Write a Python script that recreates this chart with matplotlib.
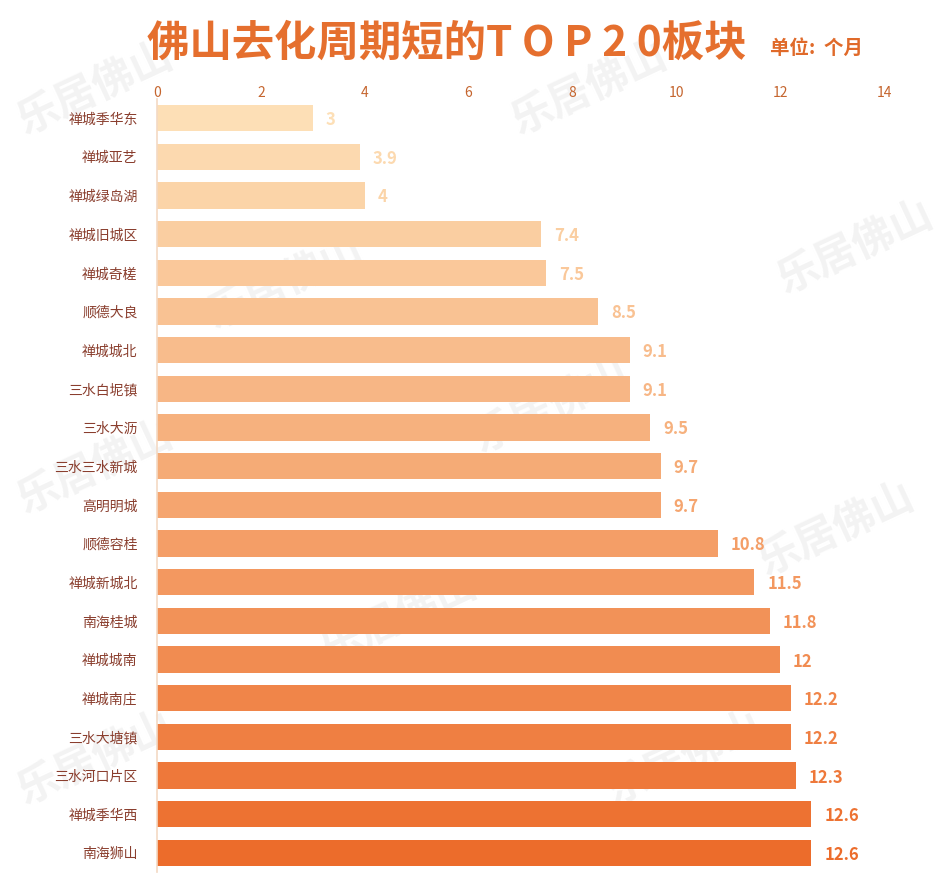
import numpy as np
import matplotlib.pyplot as plt
from matplotlib.colors import LinearSegmentedColormap

plt.rcParams['font.family'] = ['Noto Sans CJK SC', 'DejaVu Sans']

### data ###
areas = ['禅城季华东', '禅城亚艺', '禅城绿岛湖', '禅城旧城区', '禅城奇槎', '顺德大良',
         '禅城城北', '三水白坭镇', '三水大沥', '三水三水新城', '高明明城', '顺德容桂',
         '禅城新城北', '南海桂城', '禅城城南', '禅城南庄', '三水大塘镇', '三水河口片区',
         '禅城季华西', '南海狮山']
months = [3, 3.9, 4, 7.4, 7.5, 8.5, 9.1, 9.1, 9.5, 9.7, 9.7, 10.8,
          11.5, 11.8, 12, 12.2, 12.2, 12.3, 12.6, 12.6]
xticks = [0, 2, 4, 6, 8, 10, 12, 14]
############

cmap = LinearSegmentedColormap.from_list('peach', ['#FDDFB6', '#F5A873', '#EC6C2B'])
colors = cmap(np.linspace(0, 1, len(areas)))

fig = plt.figure(figsize=(9.5, 8.82), dpi=100)

### faint watermarks behind everything ###
bg = fig.add_axes([0, 0, 1, 1], zorder=-1)
bg.axis('off')
for (x, y) in [(0.10, 0.90), (0.62, 0.90), (0.30, 0.68), (0.90, 0.72),
               (0.58, 0.54), (0.10, 0.47), (0.88, 0.40), (0.42, 0.30),
               (0.10, 0.14), (0.72, 0.14)]:
    bg.text(x, y, '乐居佛山', fontsize=30, color='#F3F3F3', rotation=25,
            ha='center', va='center', fontweight='bold', transform=bg.transAxes)

ax = fig.add_axes([0.1653, 0.011, 0.7652, 0.877], zorder=1)
ax.patch.set_alpha(0)
y = np.arange(len(areas))
ax.barh(y, months, height=0.68, color=colors, zorder=2)

for yi, v, c in zip(y, months, colors):
    ax.text(v + 0.25, yi + 0.05, f'{v:g}', va='center', ha='left',
            fontsize=12, fontweight='bold', color=c)

ax.set_xlim(0, 14)
ax.set_ylim(len(areas) - 0.5, -0.5)
ax.set_xticks(xticks)
ax.xaxis.tick_top()
ax.tick_params(axis='x', length=0, pad=-1, labelsize=10, labelcolor='#C5652E')
ax.set_yticks(y)
ax.set_yticklabels(areas)
ax.tick_params(axis='y', length=0, pad=14, labelsize=10, labelcolor='#8A3E2E')
for s in ['top', 'right', 'bottom']:
    ax.spines[s].set_visible(False)
ax.spines['left'].set_color('#F3D9C4')
ax.spines['left'].set_linewidth(1.2)

fig.text(0.155, 0.950, '佛山去化周期短的T O P 2 0板块', fontsize=30.5, fontweight='bold',
         color='#E56F2E', ha='left', va='center')
fig.text(0.81, 0.945, '单位:  个月', fontsize=14, fontweight='bold',
         color='#E06A2A', ha='left', va='center')

fig.savefig('out.png', dpi=100)
